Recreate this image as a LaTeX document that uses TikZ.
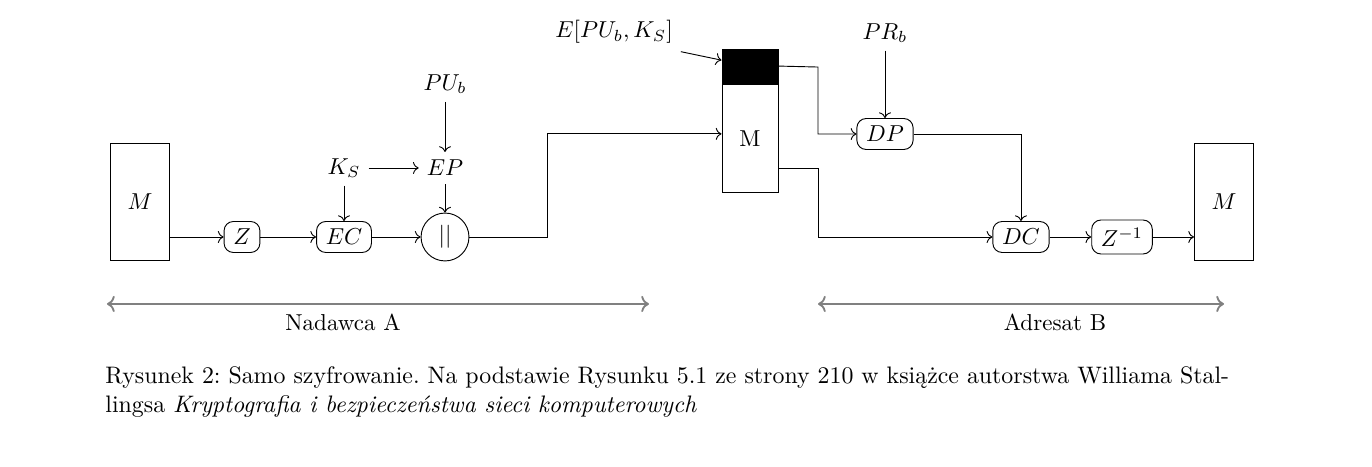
\documentclass[tikz,border=0pt]{standalone}
\usepackage{fontspec}
\usepackage{amsmath}
\usetikzlibrary{arrows.meta, positioning, calc}

\begin{document}
\begin{tikzpicture}[
    blok/.style={draw, rounded corners=4pt, inner xsep=4pt, inner ysep=3.3pt},
    msg/.style={draw, minimum width=0.9cm, minimum height=1.78cm},
    side/.style={<->, gray, thick}
  ]
            \useasboundingbox (0,0) rectangle (20.915,7.104);
            % Nadawca
            \node[msg] (Ml) at (2.134,4.024) {$M$};
            \node[blok] (Z) at (3.689,3.491) {$Z$};
            \node[blok] (EC) at (5.244,3.491) {$EC$};
            \node[draw, circle, minimum size=0.73cm, inner sep=0pt] (cat) at (6.784,3.491) {$||$};
            \node (KS) at (5.244,4.543) {$K_S$};
            \node (EP) at (6.784,4.543) {$EP$};
            \node (PUb) at (6.784,5.823) {$PU_b$};
            \draw[->] (Ml.east |- Z) -- (Z);
            \draw[->] (Z) -- (EC);
            \draw[->] (EC) -- (cat);
            \draw[->] (KS) -- (EP);
            \draw[->] (PUb) -- (EP);
            \draw[->] (KS) -- (EC);
            \draw[->] (EP) -- (cat);
            % Pakiet
            \node[draw, minimum width=0.854cm, minimum height=1.661cm, inner sep=0pt] (pkg) at (11.433,4.993) {M};
            \node[draw, fill=black, minimum width=0.854cm, minimum height=0.518cm, inner sep=0pt, above=0pt of pkg] (hdr) {};
            \node (Elab) at (9.36,6.616) {$E[PU_b, K_S]$};
            \coordinate (jA) at (8.338,3.491);
            \draw[->] (cat) -- (jA) |- ($(pkg.west)+(0,0.07)$);
            \draw[->] (Elab.south east) -- ($(hdr.west)+(0,0.09)$);
            % Adresat
            \node[blok] (DP) at (13.491,5.061) {$DP$};
            \node (PRb) at (13.491,6.601) {$PR_b$};
            \node[blok] (DC) at (15.564,3.491) {$DC$};
            \node[blok] (Zi) at (17.104,3.491) {$Z^{-1}$};
            \node[msg] (Mr) at (18.659,4.024) {$M$};
            \coordinate (jB) at (12.47,6.082);
            \coordinate (jC) at (12.47,4.543);
            \draw[->] (hdr.east) -- (jB) |- (DP);
            \draw[->] (pkg.east |- jC) -- (jC) |- (DC);
            \draw[->] (PRb) -- (DP);
            \draw[->] (DP) -| (DC);
            \draw[->] (DC) -- (Zi);
            \draw[->] (Zi) -- (Zi -| Mr.west);
            % Strony
            \coordinate (nA1) at (1.631,2.47);
            \coordinate (nA2) at (9.893,2.47);
            \coordinate (aB1) at (12.47,2.47);
            \coordinate (aB2) at (18.659,2.47);
            \draw[side] (nA1) -- (nA2);
            \draw[side] (aB1) -- (aB2);
            \node (nadawca) at (5.229,2.195) {Nadawca A};
            \node (adresat) at (16.082,2.195) {Adresat B};
            % Podpis
            \node[anchor=north west, inner sep=0pt, text width=17.13cm, align=justify, font=\fontsize{10.35}{12.4}\selectfont\frenchspacing] (podpis) at (1.60,1.52)
              {Rysunek 2: Samo szyfrowanie. Na podstawie Rysunku 5.1 ze strony 210 w książce autorstwa Williama Stal-\linebreak lingsa \textit{Kryptografia i bezpieczeństwa sieci komputerowych}};
        \end{tikzpicture}
\end{document}
